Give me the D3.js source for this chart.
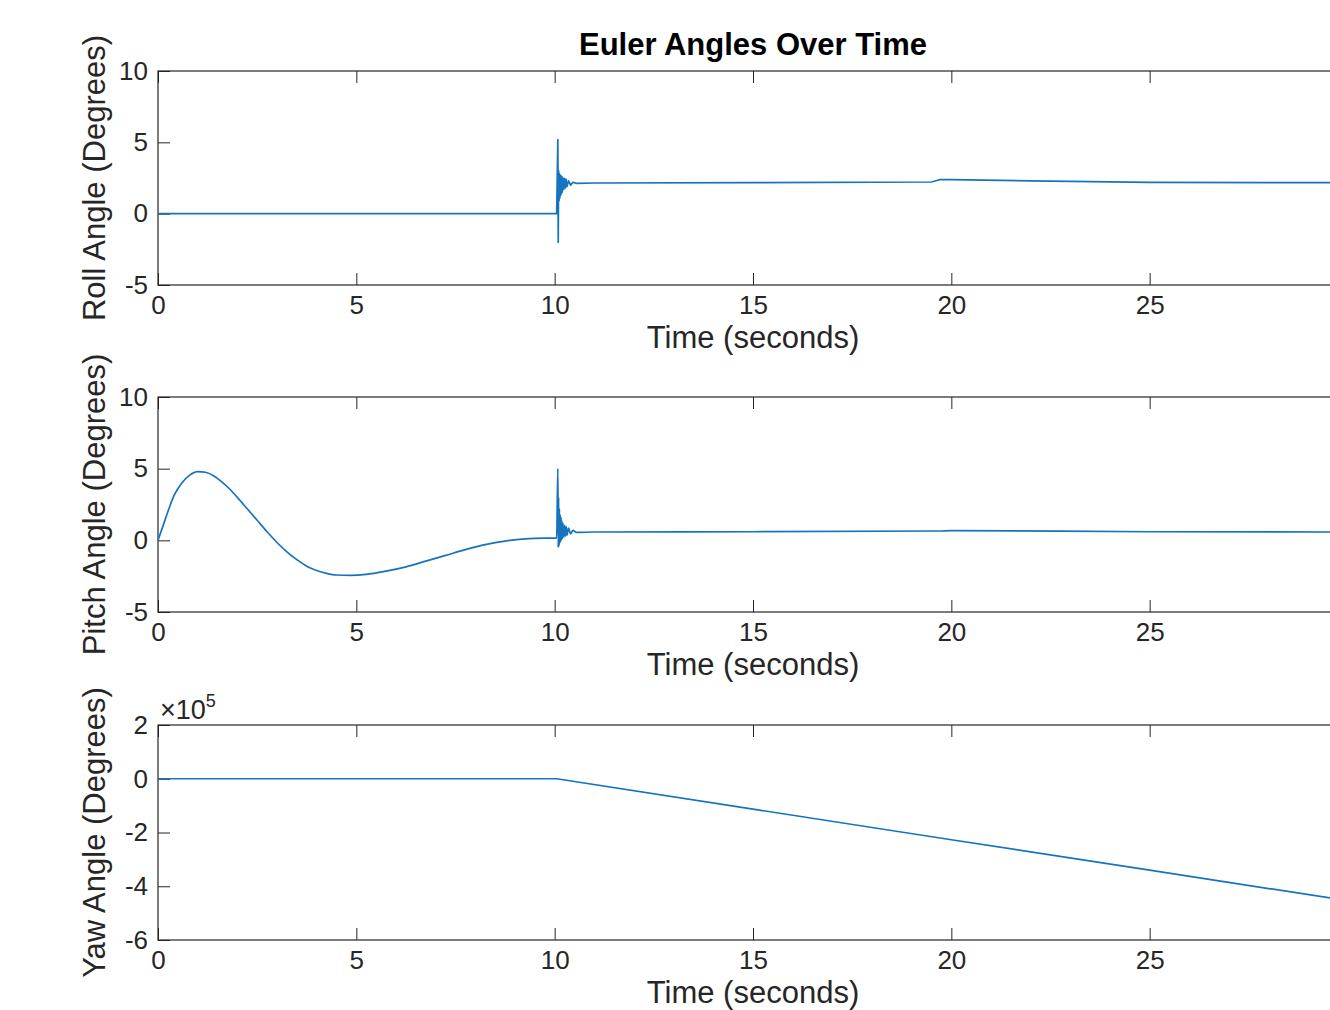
<!DOCTYPE html>
<html>
<head>
<meta charset="utf-8">
<title>Euler Angles Over Time</title>
<script src="https://cdn.jsdelivr.net/npm/d3@7"></script>
<style>
  body { margin: 0; background: #fff; overflow: hidden; }
  svg { display: block; font-family: "Liberation Sans", Arial, sans-serif; }
  .tick line { stroke: #262626; stroke-width: 1; }
  .tick text { fill: #262626; font-size: 26px; }
  .frame { fill: none; stroke: #262626; stroke-width: 1.2; }
  .trace { fill: none; stroke: #1574bd; stroke-width: 1.7; stroke-linejoin: round; }
  .lbl { fill: #262626; font-size: 31px; }
</style>
</head>
<body>
<svg width="1330" height="1010"></svg>
<script>
// time axis (30 s sits just past the right edge of the picture)
var xTicks = [0, 5, 10, 15, 20, 25, 30]

// roll angle (deg)
var rollTime = [0, 10.0, 10.05, 10.08, 10.09, 10.10, 10.11, 10.12, 10.13, 10.14, 10.15, 10.16, 10.17, 10.18, 10.19, 10.21, 10.23, 10.25, 10.27, 10.29, 10.31, 10.35, 10.40, 10.46, 10.55, 11, 15, 19.5, 19.7, 20, 22, 25, 30]
var rollDeg  = [0, 0, 0, 5.2, -2.0, 3.0, 0.9, 2.8, 1.1, 2.7, 1.3, 2.65, 1.4, 2.6, 1.5, 2.5, 1.7, 2.45, 1.8, 2.4, 1.9, 2.3, 2.0, 2.2, 2.12, 2.15, 2.17, 2.22, 2.38, 2.38, 2.3, 2.2, 2.17]
var rollTicks = [-5, 0, 5, 10]

// pitch angle (deg)
var pitchTime = [0, 0.1, 0.2, 0.3, 0.4, 0.5, 0.6, 0.8, 1.0, 1.2, 1.4, 1.6, 1.8, 2.0, 2.25, 2.5, 2.75, 3.0, 3.25, 3.5, 3.75, 4.0, 4.25, 4.5, 4.85, 5.25, 5.75, 6.25, 6.75, 7.25, 7.75, 8.25, 8.75, 9.25, 9.75, 10.05,
  10.08, 10.09, 10.10, 10.11, 10.12, 10.13, 10.14, 10.15, 10.16, 10.17, 10.18, 10.19, 10.21, 10.23, 10.25, 10.27, 10.29, 10.31, 10.35, 10.40, 10.46, 10.55, 11, 15, 19.7, 20, 25, 30]
var pitchDeg  = [0, 0.8, 1.6, 2.4, 3.1, 3.6, 4.0, 4.55, 4.8, 4.75, 4.5, 4.1, 3.6, 3.0, 2.2, 1.4, 0.6, -0.15, -0.8, -1.35, -1.8, -2.1, -2.3, -2.42, -2.45, -2.38, -2.15, -1.85, -1.45, -1.05, -0.65, -0.3, -0.05, 0.1, 0.15, 0.15,
  5.0, -0.5, 3.0, -0.4, 2.2, -0.2, 1.8, -0.1, 1.6, 0.0, 1.4, 0.1, 1.2, 0.2, 1.05, 0.3, 0.95, 0.35, 0.85, 0.45, 0.7, 0.55, 0.58, 0.6, 0.65, 0.68, 0.6, 0.58]
var pitchTicks = [-5, 0, 5, 10]

// yaw angle (deg)
var yawTime = [0, 10.05, 15, 20, 25, 30]
var yawDeg  = [0, 0, -113000, -227000, -340000, -454000]
var yawTicks = [-600000, -400000, -200000, 0, 200000]

var svg = d3.select('svg')
var x = d3.scaleLinear().domain([0, 30]).range([158, 1348])

var panels = [
  { t: rollTime, v: rollDeg, ticks: rollTicks, dom: [-5, 10], top: 71, bot: 285, label: 'Roll Angle (Degrees)', fmt: d => String(d), curve: d3.curveLinear },
  { t: pitchTime, v: pitchDeg, ticks: pitchTicks, dom: [-5, 10], top: 397, bot: 612, label: 'Pitch Angle (Degrees)', fmt: d => String(d), curve: d3.curveMonotoneX },
  { t: yawTime, v: yawDeg, ticks: yawTicks, dom: [-600000, 200000], top: 725, bot: 940, label: 'Yaw Angle (Degrees)', fmt: d => String(d / 1e5), curve: d3.curveLinear, exp: true }
]

// the 30 label falls outside the picture, so it is not drawn
var xFmt = d => (d === 30 ? '' : String(d))

panels.forEach(function(p, i) {
  var y = d3.scaleLinear().domain(p.dom).range([p.bot, p.top])
  var g = svg.append('g')

  g.append('clipPath').attr('id', 'clip' + i)
    .append('rect')
    .attr('x', x(0)).attr('y', p.top)
    .attr('width', x(30) - x(0)).attr('height', p.bot - p.top)

  g.append('g').attr('transform', 'translate(0,' + p.bot + ')')
    .call(d3.axisBottom(x).tickValues(xTicks).tickSize(-12).tickSizeOuter(0).tickPadding(11).tickFormat(xFmt))
  g.append('g').attr('transform', 'translate(0,' + p.top + ')')
    .call(d3.axisTop(x).tickValues(xTicks).tickSize(-12).tickSizeOuter(0).tickFormat(''))
  g.append('g').attr('transform', 'translate(' + x(0) + ',0)')
    .call(d3.axisLeft(y).tickValues(p.ticks).tickSize(-12).tickSizeOuter(0).tickPadding(10).tickFormat(p.fmt))
  g.selectAll('.domain').remove()
  g.selectAll('.tick text').attr('font-family', null).attr('font-size', null)

  g.append('rect').attr('class', 'frame')
    .attr('x', x(0)).attr('y', p.top)
    .attr('width', x(30) - x(0)).attr('height', p.bot - p.top)

  var pts = p.t.map((t, k) => [t, p.v[k]])
  g.append('path').attr('class', 'trace')
    .attr('clip-path', 'url(#clip' + i + ')')
    .attr('d', d3.line().curve(p.curve).x(d => x(d[0])).y(d => y(d[1]))(pts))

  g.append('text').attr('class', 'lbl')
    .attr('x', (x(0) + x(30)) / 2).attr('y', p.bot + 63)
    .attr('text-anchor', 'middle')
    .text('Time (seconds)')

  g.append('text').attr('class', 'lbl')
    .attr('transform', 'translate(105,' + ((p.top + p.bot) / 2) + ') rotate(-90)')
    .attr('text-anchor', 'middle')
    .text(p.label)

  if (p.exp) {
    var e = g.append('text').attr('x', 160).attr('y', p.top - 6)
      .attr('fill', '#262626').attr('font-size', 27)
    e.append('tspan').text('\u00d710')
    e.append('tspan').attr('font-size', 18).attr('dy', -12).text('5')
  }
})

svg.append('text')
  .attr('x', (x(0) + x(30)) / 2).attr('y', 55)
  .attr('text-anchor', 'middle')
  .attr('font-weight', 'bold').attr('font-size', 31).attr('fill', '#000')
  .text('Euler Angles Over Time')
</script>
</body>
</html>
